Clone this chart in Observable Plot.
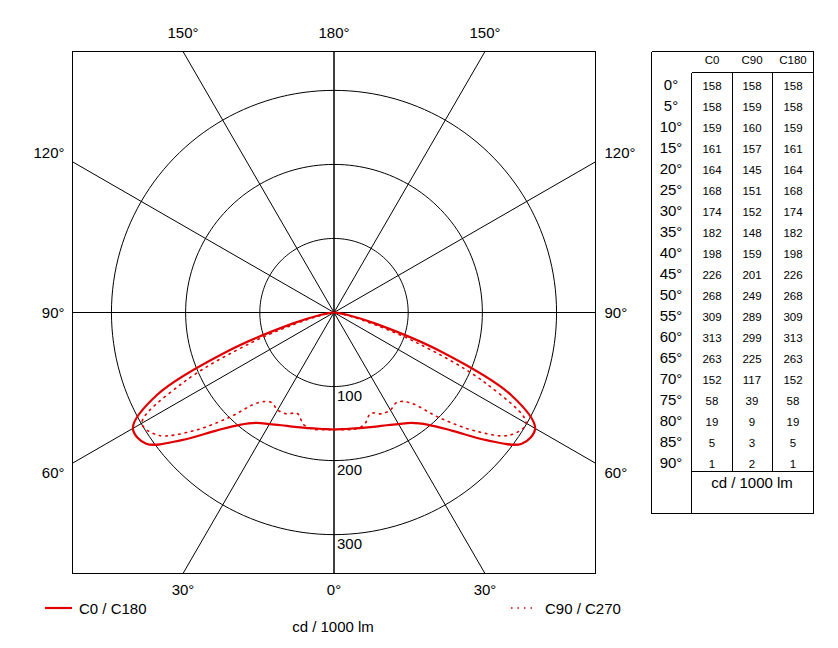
<!DOCTYPE html>
<html><head><meta charset="utf-8">
<script src="https://cdn.jsdelivr.net/npm/d3@7"></script>
<script src="https://cdn.jsdelivr.net/npm/@observablehq/plot@0.6"></script>
<style>
body{margin:0;background:#fff;font-family:"Liberation Sans",Arial,sans-serif;}
#wrap{position:relative;width:838px;height:648px;}
#wrap svg{position:absolute;left:0;top:0;}
</style></head><body><div id="wrap"></div>
<script>
// ---- data ----
const gammaAngles = [0,5,10,15,20,25,30,35,40,45,50,55,60,65,70,75,80,85,90];
const c0Values   = [158,158,159,161,164,168,174,182,198,226,268,309,313,263,152,58,19,5,1];
const c90Values  = [158,159,160,157,145,151,152,148,159,201,249,289,299,225,117,39,9,3,2];
const c180Values = [158,158,159,161,164,168,174,182,198,226,268,309,313,263,152,58,19,5,1];
const ringValues = [100,200,300];
const spokeAngles = [0,30,60,90,120,150,180];
const tableColumns = ["C0","C90","C180"];
const unitLabel = "cd / 1000 lm";
const legendLabels = ["C0 / C180","C90 / C270"];

// ---- geometry ----
const R = 352.5;
const W = 838, H = 648;
const mL = 72, mR = 243, mT = 51, mB = 75;
const k = (W - mL - mR) / (2 * R);
const rad = d => d * Math.PI / 180;
const RED = "#e00000";
const DOTS = "1.5 5";

function polar(side, g, r) { // side -1 left, +1 right; g measured from downward
  return {x: side * r * Math.sin(rad(g)), y: -r * Math.cos(rad(g))};
}
function curve(leftVals, rightVals, name) {
  const pts = [];
  for (let i = gammaAngles.length - 1; i >= 0; i--) pts.push({...polar(-1, gammaAngles[i], leftVals[i]), name});
  for (let i = 1; i < gammaAngles.length; i++) pts.push({...polar(1, gammaAngles[i], rightVals[i]), name});
  return pts;
}
const solid = curve(c0Values, c180Values, "C0/C180");
const dotted = curve(c90Values, c90Values, "C90/C270");

const rings = [];
for (const r of ringValues) for (let a = 0; a <= 360; a += 2) rings.push({r, x: r * Math.cos(rad(a)), y: r * Math.sin(rad(a))});

const spokes = [], labels = [];
for (const a of spokeAngles) for (const side of [-1, 1]) {
  const s = Math.abs(Math.sin(rad(a))), c = Math.abs(Math.cos(rad(a)));
  const L = R / Math.max(s, c);
  const p = polar(side, a, L);
  spokes.push(p);
  const isSide = s > c + 1e-9;
  if (isSide) {
    const off = 0.5 + 19 * Math.cos(rad(a));
    labels.push({x: p.x, y: p.y - off / k, text: a + "°", kind: side < 0 ? "left" : "right"});
  } else {
    labels.push({x: p.x, y: p.y, text: a + "°", kind: p.y > 0 ? "top" : "bottom"});
  }
}
const uniqLabels = labels.filter((d, i) => labels.findIndex(e => Math.abs(e.x - d.x) < 1e-6 && Math.abs(e.y - d.y) < 1e-6) === i);

const ringLabels = ringValues.map(r => ({x: 0, y: -r, text: String(r)}));

const plot = Plot.plot({
  width: W, height: H,
  marginLeft: mL, marginRight: mR, marginTop: mT, marginBottom: mB,
  x: {domain: [-R, R], axis: null},
  y: {domain: [-R, R], axis: null},
  style: {fontFamily: "'Liberation Sans', Arial, sans-serif", fontSize: "15px", background: "transparent", color: "#000"},
  marks: [
    Plot.line(rings, {x: "x", y: "y", z: "r", stroke: "#000", strokeWidth: 1}),
    Plot.link(spokes, {x1: () => 0, y1: () => 0, x2: "x", y2: "y", stroke: "#000", strokeWidth: 1}),
    Plot.frame({stroke: "#000", strokeWidth: 1}),
    Plot.text(ringLabels, {x: "x", y: "y", text: "text", dy: 9.5, dx: 3, textAnchor: "start", fontSize: 15, fill: "#000"}),
    Plot.line(dotted, {x: "x", y: "y", stroke: RED, strokeWidth: 1.6, strokeDasharray: DOTS, curve: "catmull-rom"}),
    Plot.line(solid, {x: "x", y: "y", stroke: RED, strokeWidth: 2.2, curve: "catmull-rom"}),
    Plot.text(uniqLabels.filter(d => d.kind === "top"), {x: "x", y: "y", text: "text", dy: -18, fontSize: 15, fill: "#000"}),
    Plot.text(uniqLabels.filter(d => d.kind === "bottom"), {x: "x", y: "y", text: "text", dy: 17, fontSize: 15, fill: "#000"}),
    Plot.text(uniqLabels.filter(d => d.kind === "left"), {x: "x", y: "y", text: "text", dx: -8, textAnchor: "end", fontSize: 15, fill: "#000"}),
    Plot.text(uniqLabels.filter(d => d.kind === "right"), {x: "x", y: "y", text: "text", dx: 9, textAnchor: "start", fontSize: 15, fill: "#000"})
  ]
});
document.getElementById("wrap").appendChild(plot);

// ---- table + legend overlay ----
const svg = d3.select("#wrap").append("svg").attr("width", W).attr("height", H)
  .style("pointer-events", "none").style("font-family", "'Liberation Sans', Arial, sans-serif");
const g = svg.append("g").attr("stroke", "#000").attr("stroke-width", 1).attr("shape-rendering", "crispEdges");
const line = (x1, y1, x2, y2) => g.append("line").attr("x1", x1).attr("y1", y1).attr("x2", x2).attr("y2", y2);
const tL = 651.5, tR = 813.5, tT = 51.5, tB = 513.5, tI = 691.5, hY = 72.5, bY = 471.5;
line(tL, tT, tR, tT); line(tL, tB, tR, tB); line(tL, tT, tL, tB); line(tR, tT, tR, tB);
line(tI, hY, tI, tB); line(tI, hY, tR, hY);
line(732.5, hY, 732.5, bY); line(772.5, hY, 772.5, bY);
line(tI, bY, tR, bY);
const colX = [712, 752, 793];
const colVals = [c0Values, c90Values, c180Values];
tableColumns.forEach((c, j) => svg.append("text").attr("x", colX[j]).attr("y", 60).attr("dy", "0.35em")
  .attr("text-anchor", "middle").attr("font-size", 11.5).text(c));
gammaAngles.forEach((a, i) => {
  const y = 85 + i * 21;
  svg.append("text").attr("x", 671).attr("y", y).attr("dy", "0.35em").attr("text-anchor", "middle").attr("font-size", 15).text(a + "°");
  colVals.forEach((vals, j) => svg.append("text").attr("x", colX[j]).attr("y", y + 0.5).attr("dy", "0.35em")
    .attr("text-anchor", "middle").attr("font-size", 11.5).text(vals[i]));
});
svg.append("text").attr("x", 752).attr("y", 483).attr("dy", "0.35em").attr("text-anchor", "middle").attr("font-size", 15).text(unitLabel);

// legend
svg.append("line").attr("x1", 45).attr("x2", 72).attr("y1", 608).attr("y2", 608).attr("stroke", RED).attr("stroke-width", 2.2);
svg.append("text").attr("x", 79).attr("y", 609).attr("dy", "0.35em").attr("font-size", 15).text(legendLabels[0]);
svg.append("line").attr("x1", 511).attr("x2", 537).attr("y1", 608).attr("y2", 608).attr("stroke", RED).attr("stroke-width", 1.6).attr("stroke-dasharray", DOTS);
svg.append("text").attr("x", 545).attr("y", 609).attr("dy", "0.35em").attr("font-size", 15).text(legendLabels[1]);
svg.append("text").attr("x", 333).attr("y", 627).attr("dy", "0.35em").attr("text-anchor", "middle").attr("font-size", 15).text(unitLabel);
</script></body></html>
